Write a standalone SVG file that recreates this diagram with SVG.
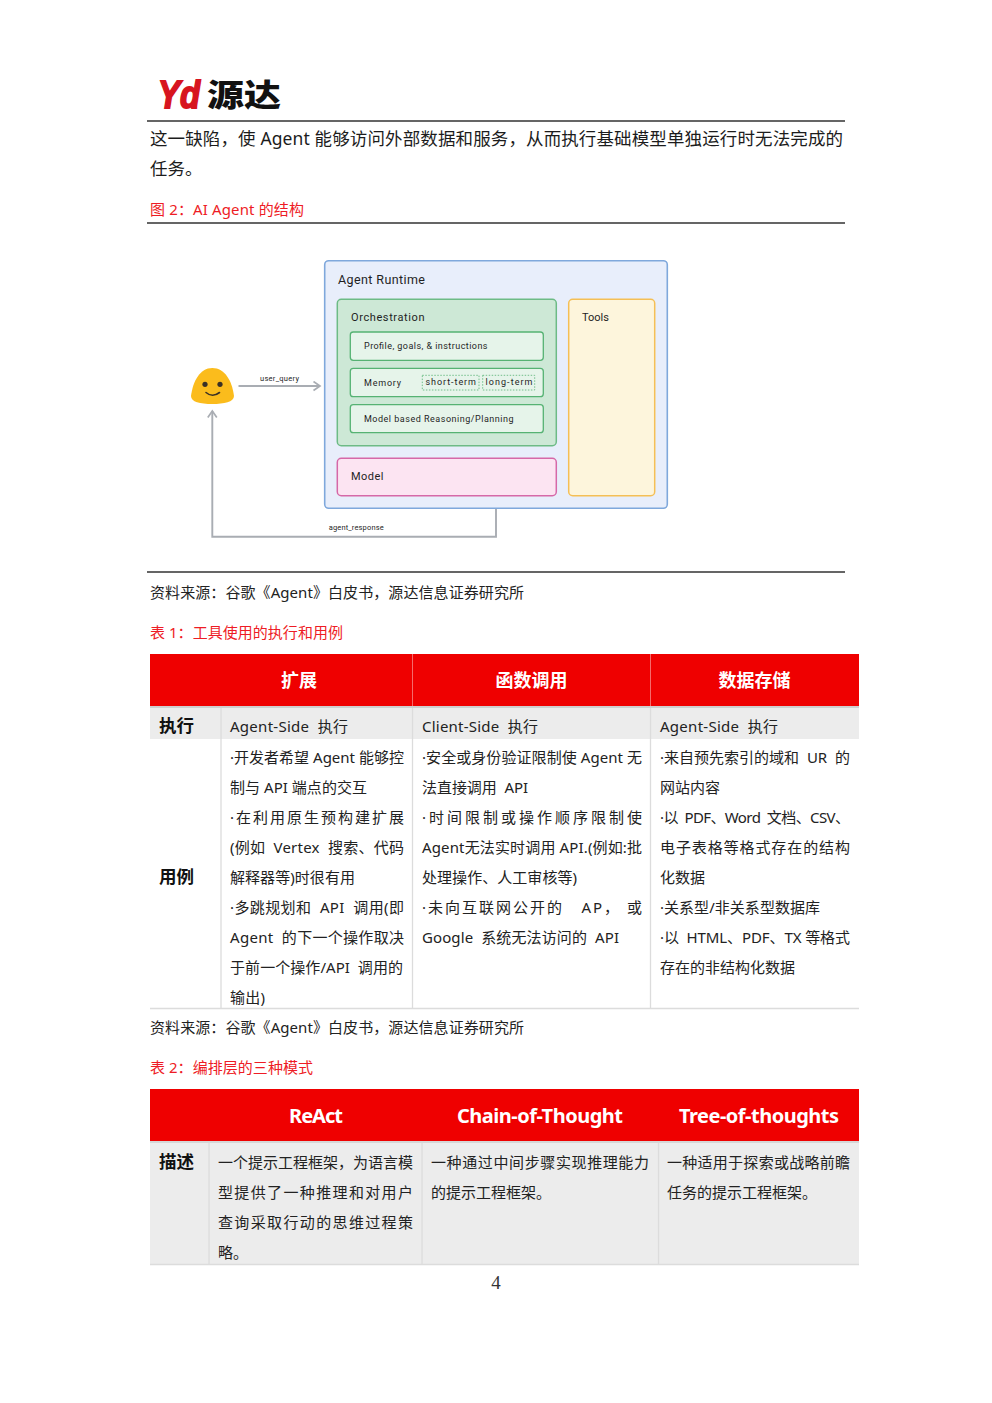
<svg xmlns="http://www.w3.org/2000/svg" width="992" height="1403" viewBox="0 0 992 1403">
<style>
text{font-family:"Noto Sans","Noto Sans CJK SC",sans-serif;fill:#1c1c1c;white-space:pre}
.b{font-size:17.5px}
.c{font-size:15px;fill:#ee1c25}
.s{font-size:15px;fill:#222}
.t{font-size:15px;fill:#222}
.h{font-size:18px;font-weight:700;fill:#fff;text-anchor:middle}
.h2{font-size:20px;font-weight:700;fill:#fff;text-anchor:middle}
.k{font-size:17.5px;font-weight:700;fill:#111}
.rule{stroke:#333;stroke-width:1.3;fill:none}
.div{stroke:#dcdcdc;stroke-width:1.3;fill:none}
.f{font-family:Roboto,"Noto Sans",sans-serif;fill:#1f1f1f}
.conn{fill:none;stroke:#a9adb3;stroke-width:1.9}
.sm{font-size:7.5px}
.in{fill:#e6f4ea;stroke:#56b273;stroke-width:1.3}
.dash{fill:none;stroke:#56b273;stroke-width:.8;stroke-dasharray:1.5 1.5}
</style>
<defs>
<marker id="arr" markerWidth="12" markerHeight="12" refX="7.500" refY="5" orient="auto" markerUnits="userSpaceOnUse"><path d="M1 .5 L7.500 5 L1 9.500" fill="none" stroke="#a9adb3" stroke-width="1.700"/></marker>
</defs>
<rect width="992" height="1403" fill="#fff"/>
<g id="logo">
<text x="158" y="108" font-size="39" textLength="42" lengthAdjust="spacingAndGlyphs" stroke="#d7151f" stroke-width="1.800" style="font-family:'Liberation Sans',sans-serif;font-weight:700;font-style:italic;fill:#d7151f">Yd</text>
<text transform="translate(207,105.500) scale(1,.84)" font-size="36" textLength="74" lengthAdjust="spacingAndGlyphs" style="font-family:'Noto Sans CJK SC',sans-serif;font-weight:900;fill:#111">源达</text>
</g>
<path class="rule" d="M147 121H845M147 223H845M147 572H845"/>
<text class="b" x="150" y="145" textLength="693">这一缺陷，使 Agent 能够访问外部数据和服务，从而执行基础模型单独运行时无法完成的</text>
<text class="b" x="150" y="175">任务。</text>
<text class="c" x="150" y="215" textLength="154">图 2：AI Agent 的结构</text>

<g id="connectors">
<path class="conn" marker-end="url(#arr)" d="M238.500 386H320"/>
<path class="conn" marker-end="url(#arr)" d="M496 508V536.700H212.300V411"/>
</g>
<g id="user"><path d="M212.300 368C225 368 232 381 234 396C234 402 224 404 212.300 404C200 404 191 402 191 396C193 381 200 368 212.300 368Z" fill="#fbbc1c"/><circle cx="205" cy="384.300" r="2.600" fill="#3a3126"/><circle cx="220" cy="384.300" r="2.600" fill="#3a3126"/><path d="M206 392.500Q212.500 398 219.500 392.500" fill="none" stroke="#3a3126" stroke-width="1.600" stroke-linecap="round"/></g>
<text class="f sm" x="260" y="380.500" textLength="39">user_query</text>
<text class="f sm" x="328.700" y="530" textLength="55">agent_response</text>
<g id="runtime"><rect x="324.700" y="260.700" width="342.600" height="247.600" rx="4" fill="#e8eefb" stroke="#7fa8dc" stroke-width="1.600"/><text class="f" x="338" y="283.500" font-size="12.500" textLength="87">Agent Runtime</text></g>
<g id="orchestration"><rect x="337.300" y="299.300" width="219" height="146.400" rx="4" fill="#cde8d6" stroke="#6dbb86" stroke-width="1.500"/><text class="f" x="351" y="321" font-size="11" textLength="73.500">Orchestration</text></g>
<g id="profile"><rect class="in" x="350.300" y="332" width="193" height="28.300" rx="3"/><text class="f" x="364" y="349" font-size="9" textLength="123.500">Profile, goals, &amp; instructions</text></g>
<g id="memory"><rect class="in" x="350.300" y="368.300" width="193" height="28.400" rx="3"/><text class="f" x="364" y="385.500" font-size="9" textLength="37">Memory</text>
<rect class="dash" x="422.300" y="375.300" width="56.700" height="14.700"/><text class="f" x="425.500" y="385" font-size="9" textLength="50.500">short-term</text>
<rect class="dash" x="482.700" y="375.300" width="52" height="14.700"/><text class="f" x="485.500" y="385" font-size="9" textLength="47">long-term</text></g>
<g id="planning"><rect class="in" x="350.300" y="404.700" width="193" height="28" rx="3"/><text class="f" x="364" y="422" font-size="9" textLength="149.500">Model based Reasoning/Planning</text></g>
<g id="model"><rect x="337.300" y="458.300" width="219" height="37.400" rx="4" fill="#fce4f2" stroke="#d668a8" stroke-width="1.500"/><text class="f" x="351" y="480" font-size="11" textLength="32.500">Model</text></g>
<g id="tools"><rect x="568.700" y="299.300" width="86" height="196.400" rx="4" fill="#fdf5dc" stroke="#f5bf55" stroke-width="1.500"/><text class="f" x="582" y="321" font-size="11" textLength="27">Tools</text></g>

<text class="s" x="150" y="598" textLength="374">资料来源：谷歌《Agent》白皮书，源达信息证券研究所</text>
<text class="c" x="150" y="638" textLength="193">表 1：工具使用的执行和用例</text>

<g id="table1">
<rect x="150" y="654" width="709" height="52" fill="#ef0000"/>
<path d="M412.500 654V706M650.500 654V706" stroke="#f56a6a" stroke-width="1"/>
<rect x="150" y="706" width="709" height="33" fill="#ececec"/>
<path d="M150 707H859" stroke="#cfcfcf" stroke-width="2"/>
<path class="div" d="M221 708V1008M412.500 708V1008M650.500 708V1008M150 1008.500H859"/>
<text class="h" x="299" y="687">扩展</text>
<text class="h" x="531.500" y="687">函数调用</text>
<text class="h" x="754.500" y="687">数据存储</text>
<text class="k" x="159" y="732">执行</text>
<text class="k" x="159" y="883">用例</text>
<text class="t" x="230" y="732" textLength="118">Agent-Side  执行</text>
<text class="t" x="422" y="732" textLength="116">Client-Side  执行</text>
<text class="t" x="660" y="732" textLength="118">Agent-Side  执行</text>

<text class="t" x="230" y="763" textLength="174">·开发者希望 Agent 能够控</text>
<text class="t" x="230" y="793" textLength="137">制与 API 端点的交互</text>
<text class="t" x="230" y="823" textLength="174">·在利用原生预构建扩展</text>
<text class="t" x="230" y="853" textLength="174">(例如  Vertex  搜索、代码</text>
<text class="t" x="230" y="883" textLength="125">解释器等)时很有用</text>
<text class="t" x="230" y="913" textLength="174">·多跳规划和  API  调用(即</text>
<text class="t" x="230" y="943" textLength="174">Agent  的下一个操作取决</text>
<text class="t" x="230" y="973" textLength="173">于前一个操作/API  调用的</text>
<text class="t" x="230" y="1003" textLength="35">输出)</text>

<text class="t" x="422" y="763" textLength="220">·安全或身份验证限制使 Agent 无</text>
<text class="t" x="422" y="793" textLength="106">法直接调用  API</text>
<text class="t" x="422" y="823" textLength="220">·时间限制或操作顺序限制使</text>
<text class="t" x="422" y="853" textLength="220">Agent无法实时调用 API.(例如:批</text>
<text class="t" x="422" y="883" textLength="155">处理操作、人工审核等)</text>
<text class="t" x="422" y="913" textLength="220">·未向互联网公开的   AP， 或</text>
<text class="t" x="422" y="943" textLength="197">Google  系统无法访问的  API</text>

<text class="t" x="660" y="763" textLength="190">·来自预先索引的域和  UR  的</text>
<text class="t" x="660" y="793" textLength="60">网站内容</text>
<text class="t" x="660" y="823" textLength="190">·以  PDF、Word  文档、CSV、</text>
<text class="t" x="660" y="853" textLength="190">电子表格等格式存在的结构</text>
<text class="t" x="660" y="883" textLength="45">化数据</text>
<text class="t" x="660" y="913" textLength="160">·关系型/非关系型数据库</text>
<text class="t" x="660" y="943" textLength="190">·以  HTML、PDF、TX 等格式</text>
<text class="t" x="660" y="973" textLength="135">存在的非结构化数据</text>
</g>

<text class="s" x="150" y="1033" textLength="374">资料来源：谷歌《Agent》白皮书，源达信息证券研究所</text>
<text class="c" x="150" y="1073" textLength="163">表 2：编排层的三种模式</text>

<g id="table2">
<rect x="150" y="1089" width="709" height="52" fill="#ef0000"/>
<rect x="150" y="1141" width="709" height="123" fill="#ececec"/>
<path d="M150 1142H859" stroke="#d6d6d6" stroke-width="2"/>
<path class="div" d="M209 1143V1264M422 1143V1264M658.500 1143V1264M150 1264.500H859"/>
<text class="h2" x="316" y="1123" textLength="54">ReAct</text>
<text class="h2" x="540" y="1123" textLength="166">Chain-of-Thought</text>
<text class="h2" x="759" y="1123" textLength="160">Tree-of-thoughts</text>
<text class="k" x="159" y="1168">描述</text>
<text class="t" x="218" y="1168" textLength="195">一个提示工程框架，为语言模</text>
<text class="t" x="218" y="1198" textLength="195">型提供了一种推理和对用户</text>
<text class="t" x="218" y="1228" textLength="195">查询采取行动的思维过程策</text>
<text class="t" x="218" y="1258">略。</text>
<text class="t" x="431" y="1168" textLength="218">一种通过中间步骤实现推理能力</text>
<text class="t" x="431" y="1198" textLength="120">的提示工程框架。</text>
<text class="t" x="667" y="1168" textLength="183">一种适用于探索或战略前瞻</text>
<text class="t" x="667" y="1198" textLength="150">任务的提示工程框架。</text>
</g>
<text x="496" y="1289" text-anchor="middle" font-size="19" style="font-family:'Liberation Serif',serif;fill:#333">4</text>
</svg>
